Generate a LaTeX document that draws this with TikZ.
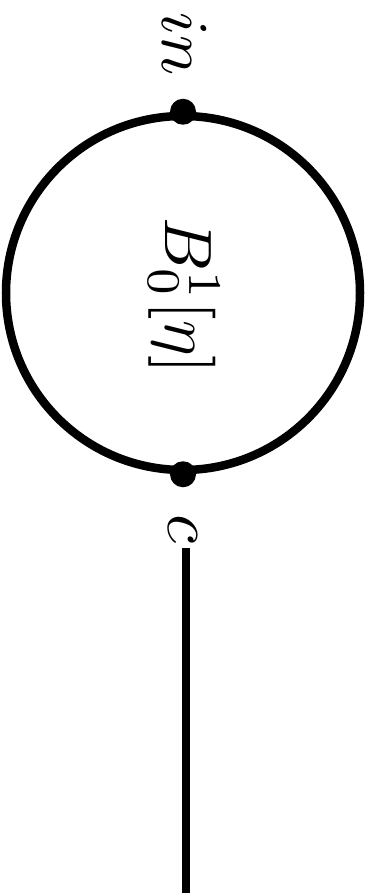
\documentclass[tikz,border=0pt]{standalone}
\begin{document}
\begin{tikzpicture}[x=1pt,y=-1pt,
  lbl/.style={rotate=-90,scale=6.7,inner sep=0pt},
  dotfill/.style={fill=black},
  wire/.style={line width=8.5pt}]
\useasboundingbox (0,0) rectangle (375,893);
\node (circ) [circle, draw, wire, minimum size=354pt, inner sep=0pt] at (183,293) {};
\node (lab) [lbl] at (184,296) {$B_0^1[\eta]$};
\fill[dotfill] (circ.north) circle (13pt);
\fill[dotfill] (circ.south) circle (13pt);
\node (in) [lbl] at (185,44) {$in$};
\node (c) [lbl] at (183,529) {$c$};
\coordinate (ctop) at (186,548);
\coordinate (cbot) at (186,893);
\draw[wire] (ctop) -- (cbot);
\end{tikzpicture}
\end{document}
